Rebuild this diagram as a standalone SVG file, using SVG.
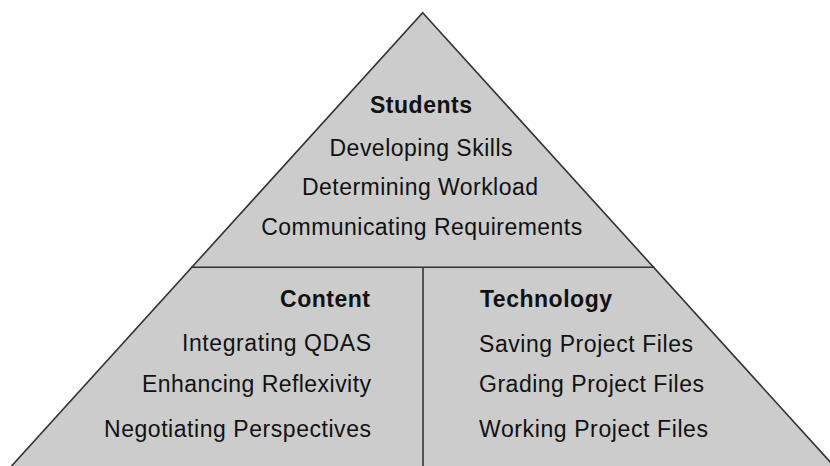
<svg xmlns="http://www.w3.org/2000/svg" width="830" height="466" viewBox="0 0 830 466">
  <style>
    .shape { fill: #cccccc; stroke: #333333; stroke-width: 1.6; stroke-linejoin: miter; }
    .divider { stroke: #333333; stroke-width: 1.6; fill: none; }
    .head { font-family: "Liberation Sans", Arial, sans-serif; font-size: 23px; font-weight: bold; fill: #111111; }
    .item { font-family: "Liberation Sans", Arial, sans-serif; font-size: 23px; fill: #111111; }
    .mid { text-anchor: middle; }
    .end { text-anchor: end; }
    .start { text-anchor: start; }
  </style>
  <rect x="0" y="0" width="830" height="466" fill="#ffffff"/>

  <!-- pyramid outline (base runs off the bottom edge) -->
  <g id="pyramid">
    <polygon class="shape" points="422.7,12.7 846.5,480 -1.1,480"/>
  </g>

  <!-- tier dividers -->
  <g id="connectors">
    <line class="divider" x1="191" y1="267.3" x2="654.5" y2="267.3"/>
    <line class="divider" x1="423" y1="267.3" x2="423" y2="470"/>
  </g>

  <g id="students">
    <text class="head mid" x="421" y="113" textLength="102" lengthAdjust="spacing">Students</text>
    <text class="item mid" x="421" y="156" textLength="183" lengthAdjust="spacing">Developing Skills</text>
    <text class="item mid" x="420" y="195" textLength="236" lengthAdjust="spacing">Determining Workload</text>
    <text class="item mid" x="421.7" y="235" textLength="321" lengthAdjust="spacing">Communicating Requirements</text>
  </g>

  <g id="content">
    <text class="head end" x="370" y="307" textLength="90" lengthAdjust="spacing">Content</text>
    <text class="item end" x="371" y="351" textLength="189" lengthAdjust="spacing">Integrating QDAS</text>
    <text class="item end" x="371" y="392" textLength="229" lengthAdjust="spacing">Enhancing Reflexivity</text>
    <text class="item end" x="371" y="437" textLength="267" lengthAdjust="spacing">Negotiating Perspectives</text>
  </g>

  <g id="technology">
    <text class="head start" x="480" y="307" textLength="132" lengthAdjust="spacing">Technology</text>
    <text class="item start" x="479" y="352" textLength="214" lengthAdjust="spacing">Saving Project Files</text>
    <text class="item start" x="479" y="392" textLength="225" lengthAdjust="spacing">Grading Project Files</text>
    <text class="item start" x="479" y="437" textLength="229" lengthAdjust="spacing">Working Project Files</text>
  </g>
</svg>
